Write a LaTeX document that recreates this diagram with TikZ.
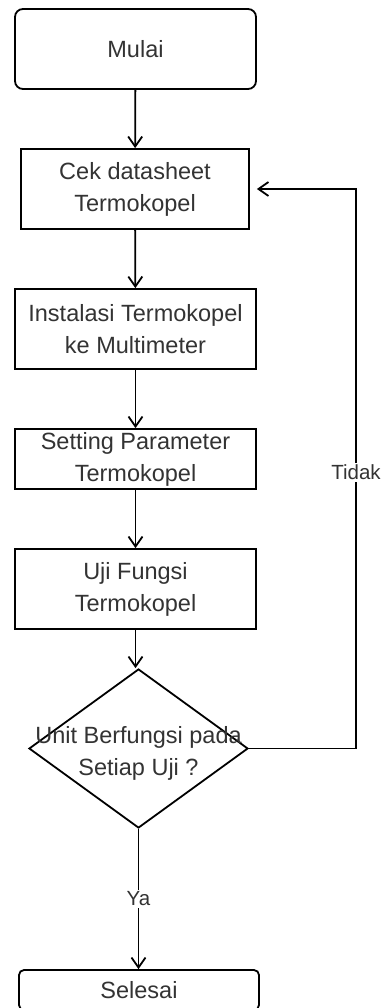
\documentclass[tikz,border=0pt]{standalone}
\usepackage{fontspec}
\setmainfont{Liberation Sans}
\usetikzlibrary{arrows.meta,shapes.geometric}
\definecolor{txt}{HTML}{333333}
\begin{document}
\begin{tikzpicture}[x=1pt,y=-1pt,
  line width=1.8pt,
  every node/.append style={text=txt},
  lbl/.style={font=\fontsize{23.5}{32}\selectfont, align=center},
  procbox/.style={draw, rectangle, lbl, minimum width=241pt, minimum height=80pt, inner sep=0pt},
  termbox/.style={draw, rectangle, rounded corners=8pt, lbl, minimum width=241pt, minimum height=80pt, inner sep=0pt},
  edgelbl/.style={fill=white, font=\fontsize{20.5}{24}\selectfont, inner sep=2pt},
  flow/.style={-{Straight Barb[length=10pt,width=14pt,line width=1.8pt]}, line width=1.8pt}
]
\useasboundingbox (0,0) rectangle (385,1008);
\clip (0,0) rectangle (385,1008);

\node[termbox] (mulai) at (135.5,49) {Mulai};
\node[procbox, minimum width=228pt] (cek) at (135,189) {Cek datasheet\\Termokopel};
\node[procbox] (inst) at (135.5,329) {Instalasi Termokopel\\ke Multimeter};
\node[procbox, minimum height=60pt] (set) at (135.5,459) {Setting Parameter\\Termokopel};
\node[procbox] (uji) at (135.5,589) {Uji Fungsi\\Termokopel};
\node[draw, diamond, minimum width=219pt, minimum height=159pt, inner sep=0pt] (dec) at (138.5,748.5) {};
\node[lbl] (dectxt) at (138.5,753) {Unit Berfungsi pada\\Setiap Uji ?};
\node[termbox, rounded corners=5pt, minimum width=240pt, minimum height=40pt] (sel) at (139,990) {Selesai};
\coordinate (loop) at (356,189);

\draw[flow] (mulai) -- (cek);
\draw[flow] (cek) -- (inst);
\draw[flow] (inst) -- (set);
\draw[flow] (set) -- (uji);
\draw[flow] (uji.south) -- (uji.south |- dec.north);
\draw[flow] (dec.south) -- node[edgelbl, pos=0.5] {Ya} (dec.south |- sel.north);
\draw[flow, shorten >=7pt] (dec.east) -| node[edgelbl, pos=0.747] {Tidak} (loop) -- (cek.east |- loop);
\end{tikzpicture}
\end{document}
